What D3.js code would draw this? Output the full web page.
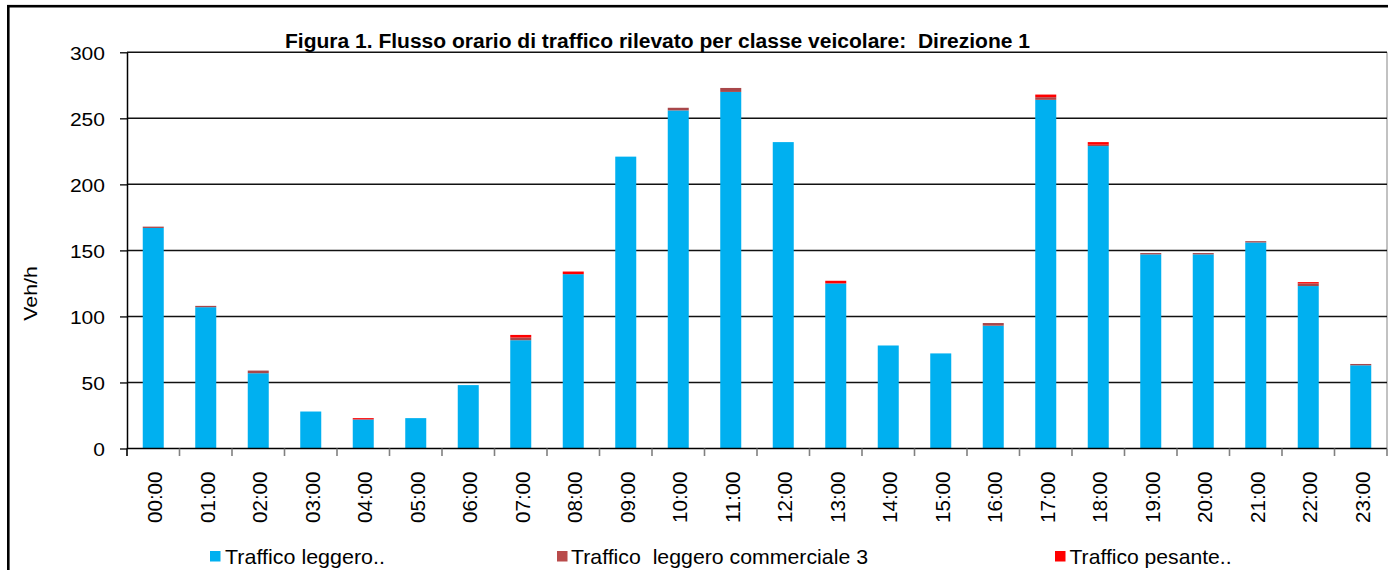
<!DOCTYPE html>
<html>
<head>
<meta charset="utf-8">
<script src="https://cdn.jsdelivr.net/npm/d3@7"></script>
<style>
  html, body { margin: 0; padding: 0; background: #fff; }
  svg { display: block; font-family: "Liberation Sans", Arial, sans-serif; }
  text { white-space: pre; }
</style>
</head>
<body>
<svg id="chart" width="1388" height="570"></svg>
<script>
// Hourly traffic flow by vehicle class, direction 1
const hours = ["00:00","01:00","02:00","03:00","04:00","05:00","06:00","07:00","08:00","09:00","10:00","11:00",
               "12:00","13:00","14:00","15:00","16:00","17:00","18:00","19:00","20:00","21:00","22:00","23:00"];
const lightTraffic      = [167,107,57,28,22,23,48,82,132,221,256,270,232,125,78,72,93,264,229,147,147,156,123,63];
const lightCommercial   = [1,1,2,0,0,0,0,2,0,0,2,3,0,0,0,0,2,2,1,1,1,1,2,1];
const heavyTraffic      = [0,0,0,0,1,0,0,2,2,0,0,0,0,2,0,0,0,2,2,0,0,0,1,0];
const seriesNames = ["Traffico leggero..", "Traffico  leggero commerciale 3", "Traffico pesante.."];
const yTicks = [0,50,100,150,200,250,300];

const colors = ["#00B0F0", "#A8474A", "#FF0000"];

const svg = d3.select("#chart");
const m = { left: 127, right: 1387, top: 52.3, bottom: 448.5 };

// outer frame
svg.append("rect")
  .attr("x", 8.3).attr("y", 6.2).attr("width", 1400).attr("height", 600)
  .attr("fill", "none").attr("stroke", "#000").attr("stroke-width", 2.6);

const table = hours.map((h, i) => ({ hour: h, light: lightTraffic[i], comm: lightCommercial[i], heavy: heavyTraffic[i] }));
const stack = d3.stack().keys(["light", "comm", "heavy"])(table);

const x = d3.scaleBand().domain(hours).range([m.left, m.right]).paddingInner(0.6).paddingOuter(0.3);
const y = d3.scaleLinear().domain([0, 300]).range([m.bottom, m.top]);

// plot area right edge
svg.append("line")
  .attr("x1", m.right).attr("x2", m.right).attr("y1", m.top).attr("y2", m.bottom)
  .attr("stroke", "#999").attr("stroke-width", 1.2);

// horizontal gridlines
svg.append("g").selectAll("line").data(yTicks.filter(d => d > 0)).join("line")
  .attr("x1", m.left).attr("x2", m.right)
  .attr("y1", d => y(d)).attr("y2", d => y(d))
  .attr("stroke", "#111").attr("stroke-width", 1.5);

// stacked bars
svg.append("g").selectAll("g").data(stack).join("g")
  .attr("fill", (d, i) => colors[i])
  .selectAll("rect").data(d => d).join("rect")
  .attr("x", d => x(d.data.hour))
  .attr("width", x.bandwidth())
  .attr("y", d => y(d[1]))
  .attr("height", d => Math.max(0, y(d[0]) - y(d[1])));

// y axis
const yAxis = svg.append("g").attr("transform", `translate(${m.left},0)`)
  .call(d3.axisLeft(y).tickValues(yTicks).tickSize(7).tickSizeOuter(0).tickPadding(0));
yAxis.select(".domain").attr("stroke", "#000").attr("stroke-width", 1.5);
yAxis.selectAll(".tick line").attr("stroke", "#000").attr("stroke-width", 1.3);
yAxis.selectAll(".tick text")
  .attr("x", -22).attr("dy", "0.36em")
  .attr("font-size", 18.6).attr("fill", "#000")
  .attr("font-family", "Liberation Sans, Arial, sans-serif")
  .each(function () {
    const s = d3.select(this);
    s.attr("textLength", s.text().length * 11.7).attr("lengthAdjust", "spacingAndGlyphs");
  });

// x axis: ticks at band boundaries
const xAxisG = svg.append("g");
xAxisG.append("line")
  .attr("x1", m.left).attr("x2", m.right).attr("y1", m.bottom).attr("y2", m.bottom)
  .attr("stroke", "#000").attr("stroke-width", 1.5);
const step = x.step();
const boundaries = d3.range(hours.length + 1).map(i => x(hours[0]) - x.paddingOuter() * step + i * step);
xAxisG.selectAll("line.tk").data(boundaries).join("line").attr("class", "tk")
  .attr("x1", d => d).attr("x2", d => d)
  .attr("y1", m.bottom).attr("y2", m.bottom + 7.5)
  .attr("stroke", (d, i) => i === 0 ? "#000" : "#808080").attr("stroke-width", 1.6);
xAxisG.selectAll("text").data(hours).join("text")
  .attr("transform", d => `translate(${x(d) + x.bandwidth() / 2 + 1.8},${471.5}) rotate(-90)`)
  .attr("text-anchor", "end").attr("dy", "0.36em")
  .attr("font-size", 20.5).attr("fill", "#000")
  .attr("textLength", 51.5).attr("lengthAdjust", "spacingAndGlyphs")
  .text(d => d);

// title
svg.append("text")
  .attr("x", 285).attr("y", 47.5)
  .attr("font-size", 20).attr("font-weight", "bold").attr("fill", "#000")
  .attr("textLength", 745).attr("lengthAdjust", "spacingAndGlyphs")
  .text("Figura 1. Flusso orario di traffico rilevato per classe veicolare:  Direzione 1");

// y axis title
svg.append("text")
  .attr("transform", "translate(36.5,293.5) rotate(-90)")
  .attr("text-anchor", "middle")
  .attr("font-size", 19).attr("fill", "#000")
  .attr("textLength", 54.5).attr("lengthAdjust", "spacingAndGlyphs")
  .text("Veh/h");

// legend
const legendItems = [
  { name: seriesNames[0], color: colors[0], sx: 210, tx: 225, w: 160 },
  { name: seriesNames[1], color: "#B94B4B", sx: 557, tx: 571, w: 297 },
  { name: seriesNames[2], color: colors[2], sx: 1055, tx: 1069.5, w: 162 }
];
const lg = svg.append("g").selectAll("g").data(legendItems).join("g");
lg.append("rect")
  .attr("x", d => d.sx).attr("y", 551).attr("width", 10.5).attr("height", 10.5)
  .attr("fill", d => d.color);
lg.append("text")
  .attr("x", d => d.tx).attr("y", 564)
  .attr("font-size", 21).attr("fill", "#000")
  .attr("textLength", d => d.w).attr("lengthAdjust", "spacingAndGlyphs")
  .text(d => d.name);
</script>
</body>
</html>
